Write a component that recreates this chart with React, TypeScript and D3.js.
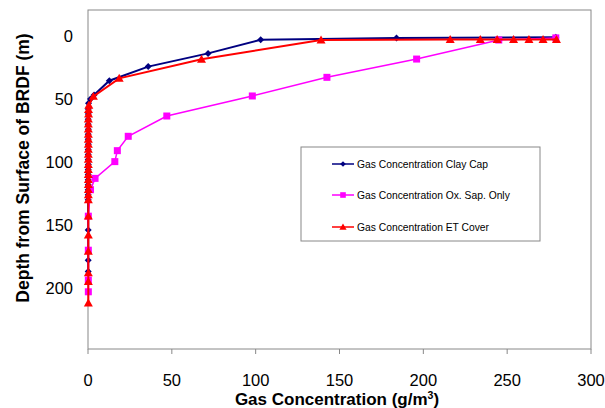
import React from "react";
import * as d3 from "d3";

// Gas concentration (g/m3) vs depth (m)
const clayCapConc = [279, 184, 103, 71.6, 35.9, 12.7, 3.6, 1.5, 0.3, 0.2, 0.2, 0.1, 0.1, 0.2, 0.1, 0.1, 0.2, 0.1, 0.1, 0.1, 0.2, 0.1, 0.1, 0.1, 0.1, 0.1, 0.1, 0.1, 0.1, 0.1, 0.1];
const clayCapDepth = [1, 1.5, 3, 13.8, 24.3, 35.5, 46.8, 50, 53.4, 58, 62, 66, 70, 74, 78, 82, 86, 90, 94, 98, 102, 106, 110, 114, 118, 122, 126, 130, 154, 178, 187];

const oxSapConc = [279, 245, 196, 142.5, 98, 47, 24, 17.5, 16, 4.2, 1.5, 0.2, 0.2, 0.2, 0.2];
const oxSapDepth = [1.5, 3.2, 18.3, 32.8, 47.6, 63.5, 79.6, 91, 99.7, 113, 122, 143, 170, 193.7, 203];

const etConc = [279.4, 271.4, 263, 253.8, 244, 234, 216, 139, 67.7, 18.6, 3.2, 0.5, 0.3, 0.3, 0.2, 0.2, 0.2, 0.2, 0.2, 0.2, 0.2, 0.2, 0.2, 0.2, 0.2, 0.2, 0.2, 0.2, 0.2, 0.2, 0.2, 0.2, 0.2, 0.2, 0.2, 0.2, 0.2];
const etDepth = [2.8, 2.8, 2.8, 2.8, 2.8, 2.8, 2.8, 3.2, 18.5, 33.6, 48, 55, 58.5, 62, 66, 70, 74, 78, 82, 86, 90, 94, 98, 102, 106, 110, 114, 118, 122, 126, 130, 143, 158, 171, 188, 195, 212];

const xTicks = [0, 50, 100, 150, 200, 250, 300];
const yTicks = [0, 50, 100, 150, 200];
const seriesNames = [
  "Gas Concentration Clay Cap",
  "Gas Concentration Ox. Sap. Only",
  "Gas Concentration ET Cover",
];

const W = 605, H = 408;
const L = 88, R = 591, T = 10, B = 349;
const FONT = "'Liberation Sans', Arial, sans-serif";

export default function App() {
  const x = d3.scaleLinear().domain([0, 300]).range([L, R]);
  const y = d3.scaleLinear().domain([0, 200]).range([36, 288]);

  const mk = (c: number[], d: number[]) => c.map((v, i) => [v, d[i]] as [number, number]);
  const series = [
    { name: seriesNames[0], pts: mk(clayCapConc, clayCapDepth), color: "#000080", w: 2, marker: "diamond" },
    { name: seriesNames[1], pts: mk(oxSapConc, oxSapDepth), color: "#ff00ff", w: 1.5, marker: "square" },
    { name: seriesNames[2], pts: mk(etConc, etDepth), color: "#ff0000", w: 2, marker: "triangle" },
  ];
  const line = d3.line<[number, number]>().x((p) => x(p[0])).y((p) => y(p[1]));

  const marker = (type: string, cx: number, cy: number, color: string, key: string, s = 1) => {
    if (type === "diamond") {
      const r = 3.5 * s;
      return <path key={key} d={`M${cx},${cy - r}L${cx + r},${cy}L${cx},${cy + r}L${cx - r},${cy}Z`} fill={color} />;
    }
    if (type === "square") {
      const r = 3.5 * s;
      return <rect key={key} x={cx - r} y={cy - r} width={2 * r} height={2 * r} fill={color} />;
    }
    const r = 4.5 * s;
    return <path key={key} d={`M${cx},${cy - r}L${cx + r},${cy + r * 0.75}L${cx - r},${cy + r * 0.75}Z`} fill={color} />;
  };

  const legendRows = [164, 195, 227];

  return (
    <svg width={W} height={H} style={{ position: "absolute", left: 0, top: 0, background: "#fff" }} fontFamily={FONT}>
      <rect x={0} y={0} width={W} height={H} fill="#fff" />
      {/* frame */}
      <rect x={L} y={T} width={R - L} height={B - T} fill="none" stroke="#888" strokeWidth={1} />
      {/* x ticks */}
      {xTicks.map((t) => (
        <g key={t}>
          <line x1={x(t)} x2={x(t)} y1={B} y2={B + 5} stroke="#888" />
          <text x={x(t)} y={386} textAnchor="middle" fontSize={16.5} fill="#000">{t}</text>
        </g>
      ))}
      {yTicks.map((t) => (
        <text key={t} x={73} y={y(t) + 6} textAnchor="end" fontSize={16.5} fill="#000">{t}</text>
      ))}
      {/* series */}
      {series.map((s) => (
        <g key={s.name}>
          <path d={line(s.pts) || ""} fill="none" stroke={s.color} strokeWidth={s.w} />
          {s.pts.map((p, i) => marker(s.marker, x(p[0]), y(p[1]), s.color, s.name + i))}
        </g>
      ))}
      {/* legend */}
      <rect x={301} y={147} width={239} height={94} fill="#fff" stroke="#888" />
      {series.map((s, i) => (
        <g key={"lg" + i}>
          <line x1={332} x2={354} y1={legendRows[i]} y2={legendRows[i]} stroke={s.color} strokeWidth={1.5} />
          {marker(s.marker, 343, legendRows[i], s.color, "lm" + i, 0.8)}
          <text x={357} y={legendRows[i] + 4} fontSize={10.3} fill="#000">{s.name}</text>
        </g>
      ))}
      {/* axis titles */}
      <text x={337} y={405} textAnchor="middle" fontSize={17} fontWeight="bold" fill="#000">
        Gas Concentration (g/m<tspan dy={-6} fontSize={10.5}>3</tspan><tspan dy={6}>)</tspan>
      </text>
      <text transform="translate(29,168) rotate(-90)" textAnchor="middle" fontSize={17.5} fontWeight="bold" fill="#000">
        Depth from Surface of BRDF (m)
      </text>
    </svg>
  );
}
